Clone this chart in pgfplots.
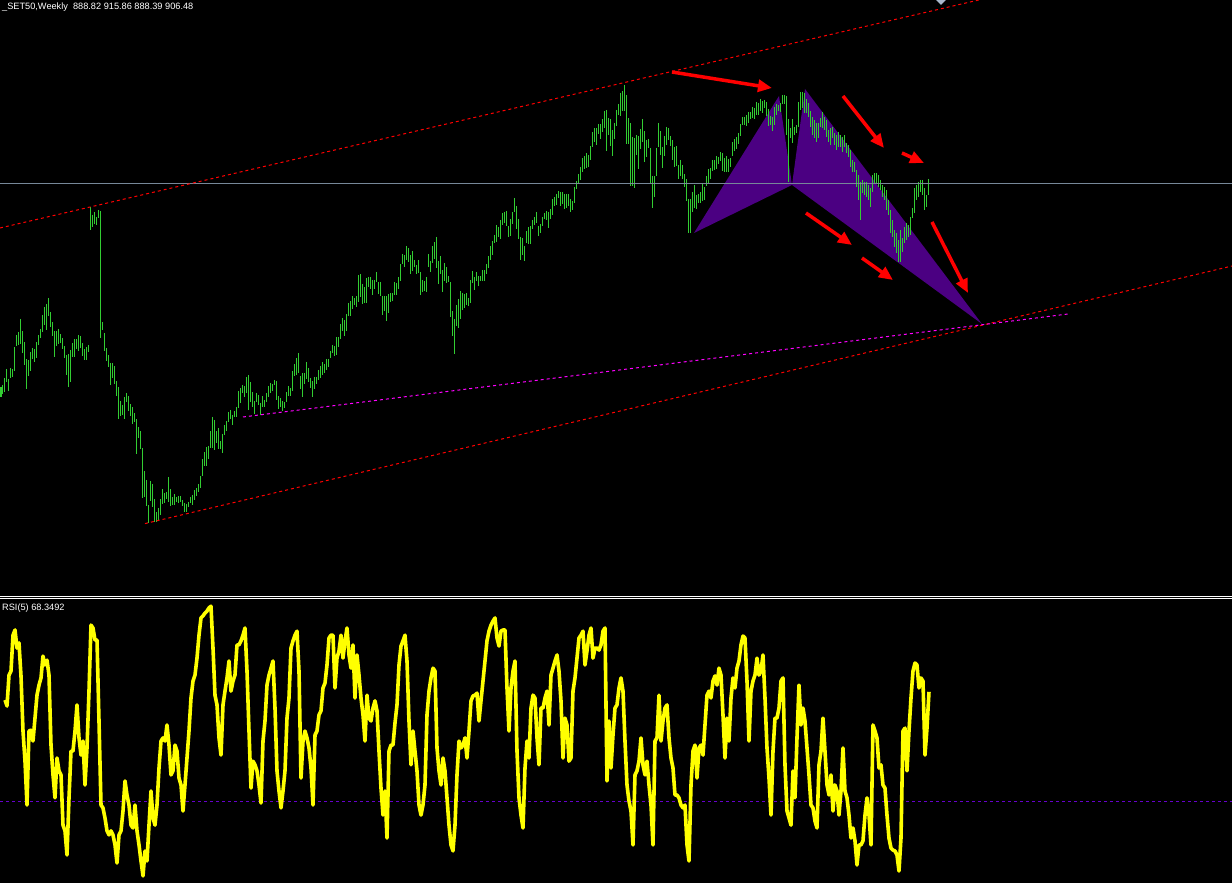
\documentclass[border=0pt]{standalone}
\usepackage{pgfplots}
\pgfplotsset{compat=1.18}
\usepackage{pgfplotstable}
\usepackage{fontspec}
\setmainfont{Liberation Sans}
\usetikzlibrary{arrows.meta}
\definecolor{barcol}{RGB}{50,205,50}
\definecolor{harm}{RGB}{75,0,130}
\definecolor{chan}{RGB}{255,0,0}
\definecolor{mag}{RGB}{255,0,255}
\definecolor{bidline}{RGB}{119,136,153}
\definecolor{lvl}{RGB}{102,0,204}
\definecolor{rsiy}{RGB}{255,255,0}
\definecolor{mk}{RGB}{170,185,205}

% weekly bars: top (h) and bottom (l) of each bar, in chart rows (0 = top of the price window)
\pgfplotstableread{
h l
387 397
385 394
378 392
369 382
379 391
368 378
369 377
347 371
335 346
332 345
319 344
331 353
342 365
359 389
360 376
352 371
348 359
349 362
342 358
335 345
329 338
315 332
307 325
304 330
298 316
312 327
322 336
331 357
331 346
329 344
334 343
338 349
346 358
355 375
354 387
350 382
343 357
339 357
339 349
335 351
336 348
343 356
349 360
347 360
345 352
207 230
215 227
212 224
217 225
210 218
211 338
322 330
333 351
348 361
355 367
363 385
363 378
366 384
381 396
387 419
401 416
405 415
397 419
393 402
396 411
404 416
407 424
413 422
419 454
427 438
431 449
448 498
471 497
480 506
505 523
481 501
484 507
499 522
512 522
508 520
499 515
489 504
493 503
492 499
477 502
489 506
497 505
494 505
497 502
496 503
496 502
500 506
503 512
504 512
502 507
497 503
495 505
490 500
488 496
484 492
476 488
459 476
452 466
447 466
446 459
431 448
417 448
420 450
431 443
428 449
441 449
434 453
425 435
421 431
412 422
410 419
415 425
411 417
407 417
391 408
388 403
385 393
386 397
377 393
375 410
382 402
392 407
401 414
393 402
395 405
403 415
396 407
400 407
393 402
386 397
383 393
384 391
380 385
381 400
396 409
398 407
401 411
402 408
392 402
386 396
388 396
371 391
364 376
358 375
353 373
376 389
373 397
373 384
362 379
368 382
378 388
381 397
377 389
377 384
370 380
366 378
362 375
364 373
359 370
359 367
351 358
345 353
346 356
337 355
337 347
324 339
318 331
320 336
314 331
303 316
301 316
296 309
298 305
296 307
275 302
274 297
284 304
287 303
278 303
277 287
277 289
280 295
280 289
272 282
282 294
282 296
296 315
296 311
296 321
294 313
293 302
293 301
282 295
283 295
277 289
264 281
254 264
255 267
246 260
248 262
255 274
251 271
260 267
265 274
260 273
272 295
280 292
281 291
277 292
254 267
261 272
246 263
242 259
237 268
261 284
256 274
270 292
263 281
267 283
276 282
282 317
311 336
319 354
305 326
299 328
291 319
293 310
294 308
293 305
298 306
280 303
271 283
277 290
272 281
276 286
276 281
270 281
270 281
264 274
256 268
246 260
241 255
235 243
225 242
227 237
220 239
213 225
212 223
211 226
226 237
219 236
212 224
198 212
206 229
219 239
237 260
238 255
246 261
231 243
227 244
226 244
220 229
217 225
212 223
226 236
224 233
217 226
213 219
211 220
212 228
209 219
199 215
197 206
194 205
191 198
192 206
192 204
194 209
194 208
194 206
199 212
201 210
187 203
181 189
174 184
167 180
158 172
156 169
153 168
155 167
146 160
132 147
128 142
128 145
124 134
124 139
119 132
111 128
110 151
118 135
119 146
130 156
123 139
110 126
104 115
93 116
91 111
85 111
95 144
118 144
123 186
137 186
138 188
135 155
136 169
129 149
119 142
131 162
140 157
139 148
148 183
176 208
176 197
148 176
123 147
131 155
147 168
136 156
127 145
128 140
136 146
140 160
147 167
146 166
165 179
160 176
165 179
174 187
179 201
199 233
199 233
192 212
185 208
195 209
194 203
192 203
184 201
187 200
176 186
169 183
168 179
160 171
160 170
156 169
157 164
152 161
153 171
158 172
156 172
159 172
158 167
142 156
139 151
137 149
133 144
124 136
117 125
117 125
115 126
112 123
112 119
107 118
108 119
102 115
103 115
99 111
101 113
100 108
102 116
109 126
116 125
117 131
107 125
104 115
105 111
103 112
95 104
95 104
96 135
119 182
128 138
119 143
127 135
125 133
102 127
92 110
92 108
93 113
99 113
103 117
111 127
117 135
120 138
123 142
123 138
118 127
112 128
117 130
120 137
130 142
128 145
127 138
133 145
135 150
132 147
135 147
137 152
135 147
143 153
145 157
150 167
160 172
162 172
170 187
175 200
182 220
180 193
182 195
182 197
185 200
188 207
175 192
173 183
173 183
175 187
180 190
185 197
187 200
190 210
200 215
210 233
220 237
230 247
233 253
240 262
230 262
238 252
227 243
223 240
225 237
217 235
208 218
188 213
185 200
182 197
180 192
180 195
188 210
195 207
179 195
}\bars

% RSI(5) values, one per week from week 2 on
\pgfplotstableread{
r
65.5
63.4
74.2
75.6
88.1
89.9
83.6
85.4
73.9
54.7
44.2
28.9
54.7
55.0
51.2
59.2
67.2
70.7
73.2
80.8
77.7
79.4
74.2
49.8
39.4
31.4
45.3
40.8
39.4
21.9
19.9
11.5
31.4
47.7
47.7
54.7
63.8
52.3
46.3
51.2
35.9
48.8
68.6
91.6
90.6
86.4
86.4
58.2
28.9
27.9
24.4
19.9
18.5
19.9
18.5
15.0
8.7
18.5
19.9
26.8
37.3
32.4
28.9
21.9
20.9
28.9
19.9
15.0
9.4
4.2
12.9
9.4
21.9
33.8
24.4
21.9
28.9
41.8
51.2
52.3
51.2
56.8
49.8
39.4
40.8
49.8
47.7
38.3
35.9
26.8
35.9
45.3
54.7
66.2
72.1
74.2
80.1
88.1
94.1
94.8
95.8
96.5
97.6
98.2
83.6
67.2
63.8
52.3
46.3
63.8
68.6
73.2
79.1
68.6
72.1
74.2
84.7
84.7
86.1
88.1
90.6
75.6
54.7
34.8
44.2
42.9
40.8
35.9
29.6
51.2
58.2
70.7
74.2
76.6
79.1
62.7
40.8
33.8
27.9
33.8
40.8
59.2
66.2
83.6
86.1
88.1
89.5
75.6
38.3
51.2
54.7
52.3
48.8
41.8
28.9
53.3
54.7
60.3
61.7
69.7
71.4
77.7
87.1
88.1
88.1
69.7
80.1
82.6
88.1
80.1
86.1
90.6
81.2
76.6
84.7
66.2
81.2
74.2
66.2
60.3
51.2
67.2
59.2
58.2
62.7
65.2
61.7
47.7
34.8
25.4
33.8
17.4
47.7
49.8
49.8
57.5
63.8
77.7
84.3
86.1
88.1
79.1
58.2
42.9
54.7
47.7
40.8
28.9
25.4
28.9
35.9
60.3
68.6
73.2
76.6
75.6
48.8
40.8
35.9
45.3
40.8
31.4
21.9
15.0
12.9
21.9
39.4
51.2
48.8
49.8
52.3
45.3
54.7
65.2
66.9
67.2
67.9
58.2
65.2
72.1
79.1
86.1
89.5
91.6
93.0
94.1
87.1
84.3
89.5
89.9
89.9
69.7
54.7
69.7
75.6
79.1
47.7
31.4
25.4
20.9
41.8
51.2
45.3
62.7
67.2
66.2
52.3
42.9
62.7
62.7
66.2
68.6
56.8
74.2
76.6
79.1
81.2
75.6
65.2
45.3
59.2
56.8
44.2
45.3
68.6
73.2
80.1
87.1
88.1
89.5
77.7
82.6
88.1
90.6
80.1
83.6
83.6
82.9
84.7
89.5
90.6
37.3
58.2
41.8
53.3
62.7
63.8
69.7
73.2
68.6
51.2
35.9
30.3
26.8
15.0
39.4
40.8
44.2
52.3
42.9
39.4
44.2
35.9
28.9
15.0
51.2
52.3
67.2
51.2
58.2
62.7
63.8
52.3
45.3
41.8
32.4
32.4
31.4
28.9
27.9
28.9
15.0
9.4
35.9
47.7
49.8
38.3
48.8
49.8
46.3
56.8
67.2
68.6
66.2
72.1
73.9
70.7
76.6
74.2
60.3
45.3
59.2
51.2
66.2
73.2
69.7
76.6
79.1
84.7
87.8
87.1
72.1
51.2
68.6
72.1
74.2
80.1
74.2
75.6
81.2
66.2
48.8
38.3
25.4
47.7
59.2
59.2
62.7
72.1
73.2
42.9
26.8
24.4
21.9
40.8
31.4
52.3
70.7
56.8
62.7
58.2
48.8
39.4
28.9
27.9
23.3
20.9
42.9
47.7
59.2
47.7
35.9
32.4
39.4
26.8
35.9
33.8
25.4
33.8
48.8
33.8
31.4
25.4
17.4
20.9
16.4
8.0
15.0
15.0
16.4
25.4
31.4
25.4
15.0
56.8
54.7
52.3
41.8
42.9
35.9
34.8
25.4
17.4
13.9
13.2
12.9
11.5
5.9
17.4
54.7
55.7
40.8
54.7
66.2
75.6
78.4
77.7
69.7
73.2
72.1
46.3
55.7
68.3492
}\rsi

\begin{document}
\begin{tikzpicture}
\fill[black] (0,0) rectangle (1232pt,883pt);
% ---------------- price window ----------------
\begin{axis}[at={(0pt,883pt)}, anchor=north west,
  width=1232pt, height=597pt, scale only axis, hide axis,
  xmin=-0.5, xmax=615.5, ymin=0, ymax=597, y dir=reverse,
  clip mode=individual]
% harmonic pattern
\addplot[fill=harm, draw=none] coordinates {(346.5,233) (389,96) (395.5,185)} --cycle;
\addplot[fill=harm, draw=none] coordinates {(395.5,185) (402,89) (490.5,324)} --cycle;
% bars
\addplot[barcol, line width=1pt, quiver={u=0, v=\thisrow{l}-\thisrow{h}}]
  table[x expr=\coordindex, y=h] {\bars};
% bid line
\addplot[bidline, line width=1pt] coordinates {(-0.5,184) (615.5,184)};
% channel and trend lines
\addplot[chan, line width=1pt, dash pattern=on 3pt off 3pt] coordinates {(-0.5,228) (489.5,-0.3)};
\addplot[chan, line width=1pt, dash pattern=on 3pt off 3pt] coordinates {(72,523.6) (615.5,266)};
\addplot[mag, line width=1pt, dash pattern=on 3pt off 3pt] coordinates {(121,417) (533.5,314)};
% arrows
\addplot[chan, line width=3.5pt, -{Triangle[length=14pt,width=12pt]}] coordinates {(335.5,72) (385.5,88)};
\addplot[chan, line width=3.5pt, -{Triangle[length=14pt,width=12pt]}] coordinates {(421,96) (441.5,148)};
\addplot[chan, line width=3.5pt, -{Triangle[length=14pt,width=12pt]}] coordinates {(450.5,153) (461.5,163)};
\addplot[chan, line width=3.5pt, -{Triangle[length=14pt,width=12pt]}] coordinates {(402.5,213) (425.5,245)};
\addplot[chan, line width=3.5pt, -{Triangle[length=14pt,width=12pt]}] coordinates {(430.5,258) (446,280)};
\addplot[chan, line width=3.5pt, -{Triangle[length=14pt,width=12pt]}] coordinates {(465.5,222) (483.5,293)};
% small marker at the top
\addplot[fill=mk, draw=none] coordinates {(467.5,0) (472.5,0) (470,5)} --cycle;
\node[anchor=west, inner sep=0pt, text=white, font=\fontsize{9.2}{11}\selectfont]
  at (axis cs:0.5,7) {\_SET50,Weekly\ \ 888.82 915.86 888.39 906.48};
\end{axis}
% ---------------- RSI window ----------------
\begin{axis}[at={(0pt,0pt)}, anchor=south west,
  width=1232pt, height=283pt, scale only axis, hide axis,
  xmin=-0.5, xmax=615.5, ymin=1.74, ymax=100.35,
  clip mode=individual]
\addplot[lvl, line width=1pt, dash pattern=on 3pt off 3pt] coordinates {(-0.5,30) (615.5,30)};
\addplot[rsiy, line width=3.6pt, line join=round] table[x expr=\coordindex+2, y=r] {\rsi};
\node[anchor=west, inner sep=0pt, text=white, font=\fontsize{9.2}{11}\selectfont]
  at (axis cs:0.5,97.6) {RSI(5) 68.3492};
\end{axis}
\draw[white, line width=1pt] (0pt,286.5pt) -- (1232pt,286.5pt);
\draw[white, line width=1pt] (0pt,284pt) -- (1232pt,284pt);
\pgfresetboundingbox
\useasboundingbox (0pt,0pt) rectangle (1232pt,883pt);
\end{tikzpicture}
\end{document}
